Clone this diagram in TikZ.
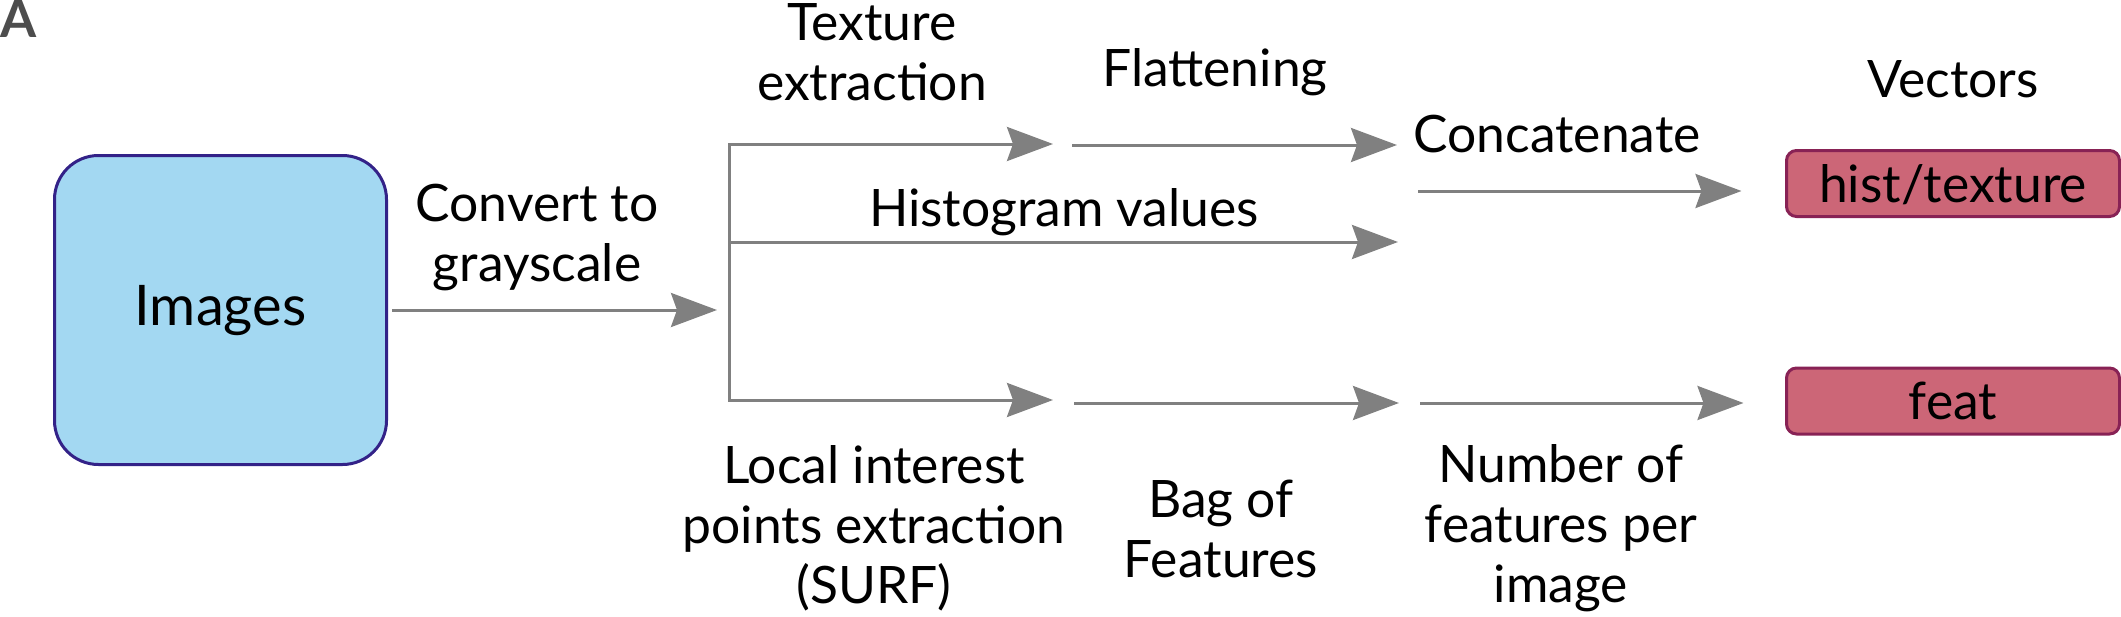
\documentclass[tikz,border=0pt]{standalone}
\usepackage{fontspec}
\setmainfont{Lato}
\usetikzlibrary{arrows.meta}
\definecolor{imgfill}{HTML}{A3D8F2}
\definecolor{imgdraw}{HTML}{332288}
\definecolor{vecfill}{HTML}{CC6677}
\definecolor{vecdraw}{HTML}{882255}
\definecolor{arrowgray}{HTML}{808080}
\definecolor{labelgray}{HTML}{4D4D4D}
\begin{document}
\begin{tikzpicture}[x=0.5pt,y=-0.5pt,
  lbl/.style={font=\fontsize{25.8pt}{30pt}\selectfont, align=center, anchor=base, inner sep=0pt},
  flow/.style={draw=arrowgray, line width=1.5pt, line join=miter, -{Stealth[length=23pt,width=17pt,inset=3pt]}},
  imgbox/.style={draw=imgdraw, fill=imgfill, line width=1.5pt, rounded corners=22pt,
    minimum width=166pt, minimum height=154.5pt, inner sep=0pt,
    font=\fontsize{28pt}{33pt}\selectfont, text height=20pt, text depth=5pt},
  vecbox/.style={draw=vecdraw, fill=vecfill, line width=1.5pt, rounded corners=5pt,
    minimum width=166.5pt, minimum height=33pt, inner sep=0pt,
    font=\fontsize{25.8pt}{30pt}\selectfont, text height=18.5pt, text depth=0pt}]
\useasboundingbox (0,0) rectangle (2121,616);

% panel label
\node[anchor=base west, inner sep=0pt, text=labelgray, font=\fontsize{26pt}{28pt}\selectfont\bfseries] (panel) at (0,37) {A};

% boxes
\node[imgbox] (img) at (220.5,310) {Images};
\node[vecbox] (hist) at (1953,183.5) {hist/texture};
\node[vecbox] (feat) at (1953,401) {feat};

% labels (anchor = baseline of the last line)
\node[lbl] (conv) at (537,281) {Convert to\\grayscale};
\node[lbl] (tex) at (872,100) {Texture\\extraction};
\node[lbl] (flat) at (1215,86) {Flattening};
\node[lbl] (histv) at (1064,226) {Histogram values};
\node[lbl] (conc) at (1557,152) {Concatenate};
\node[lbl] (vec) at (1953,97) {Vectors};
\node[lbl] (loc) at (874,603) {Local interest\\points extraction\\(SURF)};
\node[lbl] (bag) at (1221,577) {Bag of\\Features};
\node[lbl] (num) at (1561,602) {Number of\\features per\\image};

% coordinates
\coordinate (g1) at (717,310);
\coordinate (bt) at (729,144);
\coordinate (bm) at (729,242);
\coordinate (bb) at (729,400);
\coordinate (t1) at (1053,144);
\coordinate (t2) at (1072,145);
\coordinate (t3) at (1397,145);
\coordinate (h3) at (1398,242);
\coordinate (b1) at (1053,400);
\coordinate (b2) at (1074,403);
\coordinate (b3) at (1399,403);
\coordinate (c1) at (1418,191);
\coordinate (n1) at (1420,403);

% connectors
\draw[flow] ([xshift=2pt]img.east) -- (g1);
\draw[flow] (bm) -- (bt) -- (t1);
\draw[flow] (bm) -- (bb) -- (b1);
\draw[flow] (bm) -- (h3);
\draw[flow] (t2) -- (t3);
\draw[flow] (b2) -- (b3);
\draw[flow, shorten >=21.75pt] (c1) -- (c1 -| hist.west);
\draw[flow, shorten >=20.75pt] (n1) -- (n1 -| feat.west);
\end{tikzpicture}
\end{document}
